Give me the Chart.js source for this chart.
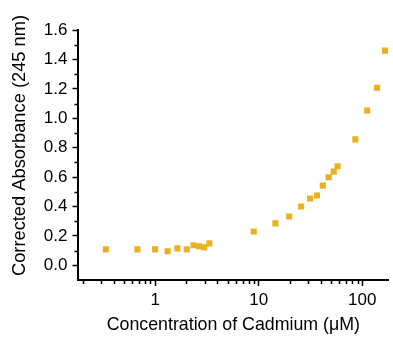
<!DOCTYPE html>
<html>
<head>
<meta charset="utf-8">
<script src="https://cdn.jsdelivr.net/npm/chart.js@4"></script>
<style>
	html, body { margin: 0; padding: 0; background: #fff; }
	#c { display: block; }
</style>
</head>
<body>
<canvas id="c" width="393" height="337"></canvas>
<script>
// values
const concentration = [0.334, 0.674, 1.0, 1.32, 1.64, 2.02, 2.35, 2.66, 2.97, 3.34, 8.96, 14.5, 19.7, 25.7, 31.3, 36.5, 41.6, 47.4, 53.0, 57.8, 85.7, 111.6, 139, 165.6];
const absorbance = [0.108, 0.108, 0.108, 0.095, 0.115, 0.108, 0.136, 0.129, 0.122, 0.149, 0.23, 0.285, 0.332, 0.40, 0.454, 0.475, 0.542, 0.599, 0.637, 0.673, 0.856, 1.053, 1.207, 1.46];

const xMajorTicks = [1, 10, 100];
const xMinorTicks = [0.2, 0.3, 0.4, 0.5, 0.6, 0.7, 0.8, 0.9, 2, 3, 4, 5, 6, 7, 8, 9, 20, 30, 40, 50, 60, 70, 80, 90];
const yMajorTicks = [0, 0.2, 0.4, 0.6, 0.8, 1.0, 1.2, 1.4, 1.6];
const yMinorTicks = [0.1, 0.3, 0.5, 0.7, 0.9, 1.1, 1.3, 1.5];

const X_TITLE = "Concentration of Cadmium (μM)";
const Y_TITLE = "Corrected Absorbance (245 nm)";

const FONT = "'Liberation Sans', Arial, sans-serif";

let points = concentration.map((x, i) => ({ x: x, y: absorbance[i] }));

// short ticks between the labelled ones
const minorTicks = {
	id: "minorTicks",
	afterDraw(chart) {
		let ctx = chart.ctx;
		let xs = chart.scales.x, ys = chart.scales.y;
		let area = chart.chartArea;
		ctx.save();
		ctx.strokeStyle = "#000";
		ctx.lineWidth = 1.5;
		ctx.beginPath();
		xMinorTicks.forEach(v => {
			let px = Math.round(xs.getPixelForValue(v)) + 0.5;
			ctx.moveTo(px, area.bottom);
			ctx.lineTo(px, area.bottom + 4);
		});
		yMinorTicks.forEach(v => {
			let py = Math.round(ys.getPixelForValue(v)) + 0.5;
			ctx.moveTo(area.left, py);
			ctx.lineTo(area.left - 3.5, py);
		});
		ctx.stroke();
		ctx.restore();
	}
};

// y title sits a little above the middle of the axis in the original
const yTitle = {
	id: "yTitle",
	afterDraw(chart) {
		let ctx = chart.ctx;
		let area = chart.chartArea;
		ctx.save();
		ctx.translate(19.5, (area.top + area.bottom) / 2 - 9.5);
		ctx.rotate(-Math.PI / 2);
		ctx.font = "18.3px " + FONT;
		ctx.fillStyle = "#000";
		ctx.textAlign = "center";
		ctx.textBaseline = "middle";
		ctx.fillText(Y_TITLE, 0, 0);
		ctx.restore();
	}
};

new Chart(document.getElementById("c"), {
	type: "scatter",
	data: {
		datasets: [{
			label: "Cadmium",
			data: points,
			pointStyle: "rect",
			pointRadius: 4.3,
			pointHoverRadius: 4.3,
			pointBorderWidth: 0,
			backgroundColor: "#EAB020",
			borderColor: "#EAB020"
		}]
	},
	options: {
		responsive: false,
		animation: false,
		devicePixelRatio: 1,
		layout: { padding: { top: 30, right: 0, bottom: 0, left: 0 } },
		plugins: {
			legend: { display: false },
			tooltip: { enabled: false }
		},
		scales: {
			x: {
				type: "logarithmic",
				min: 0.18,
				max: 180,
				afterBuildTicks: s => { s.ticks = xMajorTicks.map(v => ({ value: v })); },
				afterFit: s => { s.height = 57; },
				border: { display: true, color: "#000", width: 2 },
				grid: { drawOnChartArea: false, drawTicks: true, tickLength: 6, tickColor: "#000", tickWidth: 1.5 },
				ticks: {
					color: "#000",
					padding: 4,
					maxRotation: 0,
					font: { family: FONT, size: 17 },
					callback: v => String(v)
				},
				title: {
					display: true,
					text: X_TITLE,
					color: "#000",
					font: { family: FONT, size: 17.8 },
					padding: { top: 0, bottom: 1 }
				}
			},
			y: {
				min: -0.1,
				max: 1.6,
				afterBuildTicks: s => { s.ticks = yMajorTicks.map(v => ({ value: v })); },
				afterFit: s => { s.width = 78; },
				border: { display: true, color: "#000", width: 2 },
				grid: { drawOnChartArea: false, drawTicks: true, tickLength: 5.5, tickColor: "#000", tickWidth: 1.5 },
				ticks: {
					color: "#000",
					padding: 5,
					font: { family: FONT, size: 17 },
					callback: v => v.toFixed(1)
				}
			}
		}
	},
	plugins: [minorTicks, yTitle]
});
</script>
</body>
</html>
